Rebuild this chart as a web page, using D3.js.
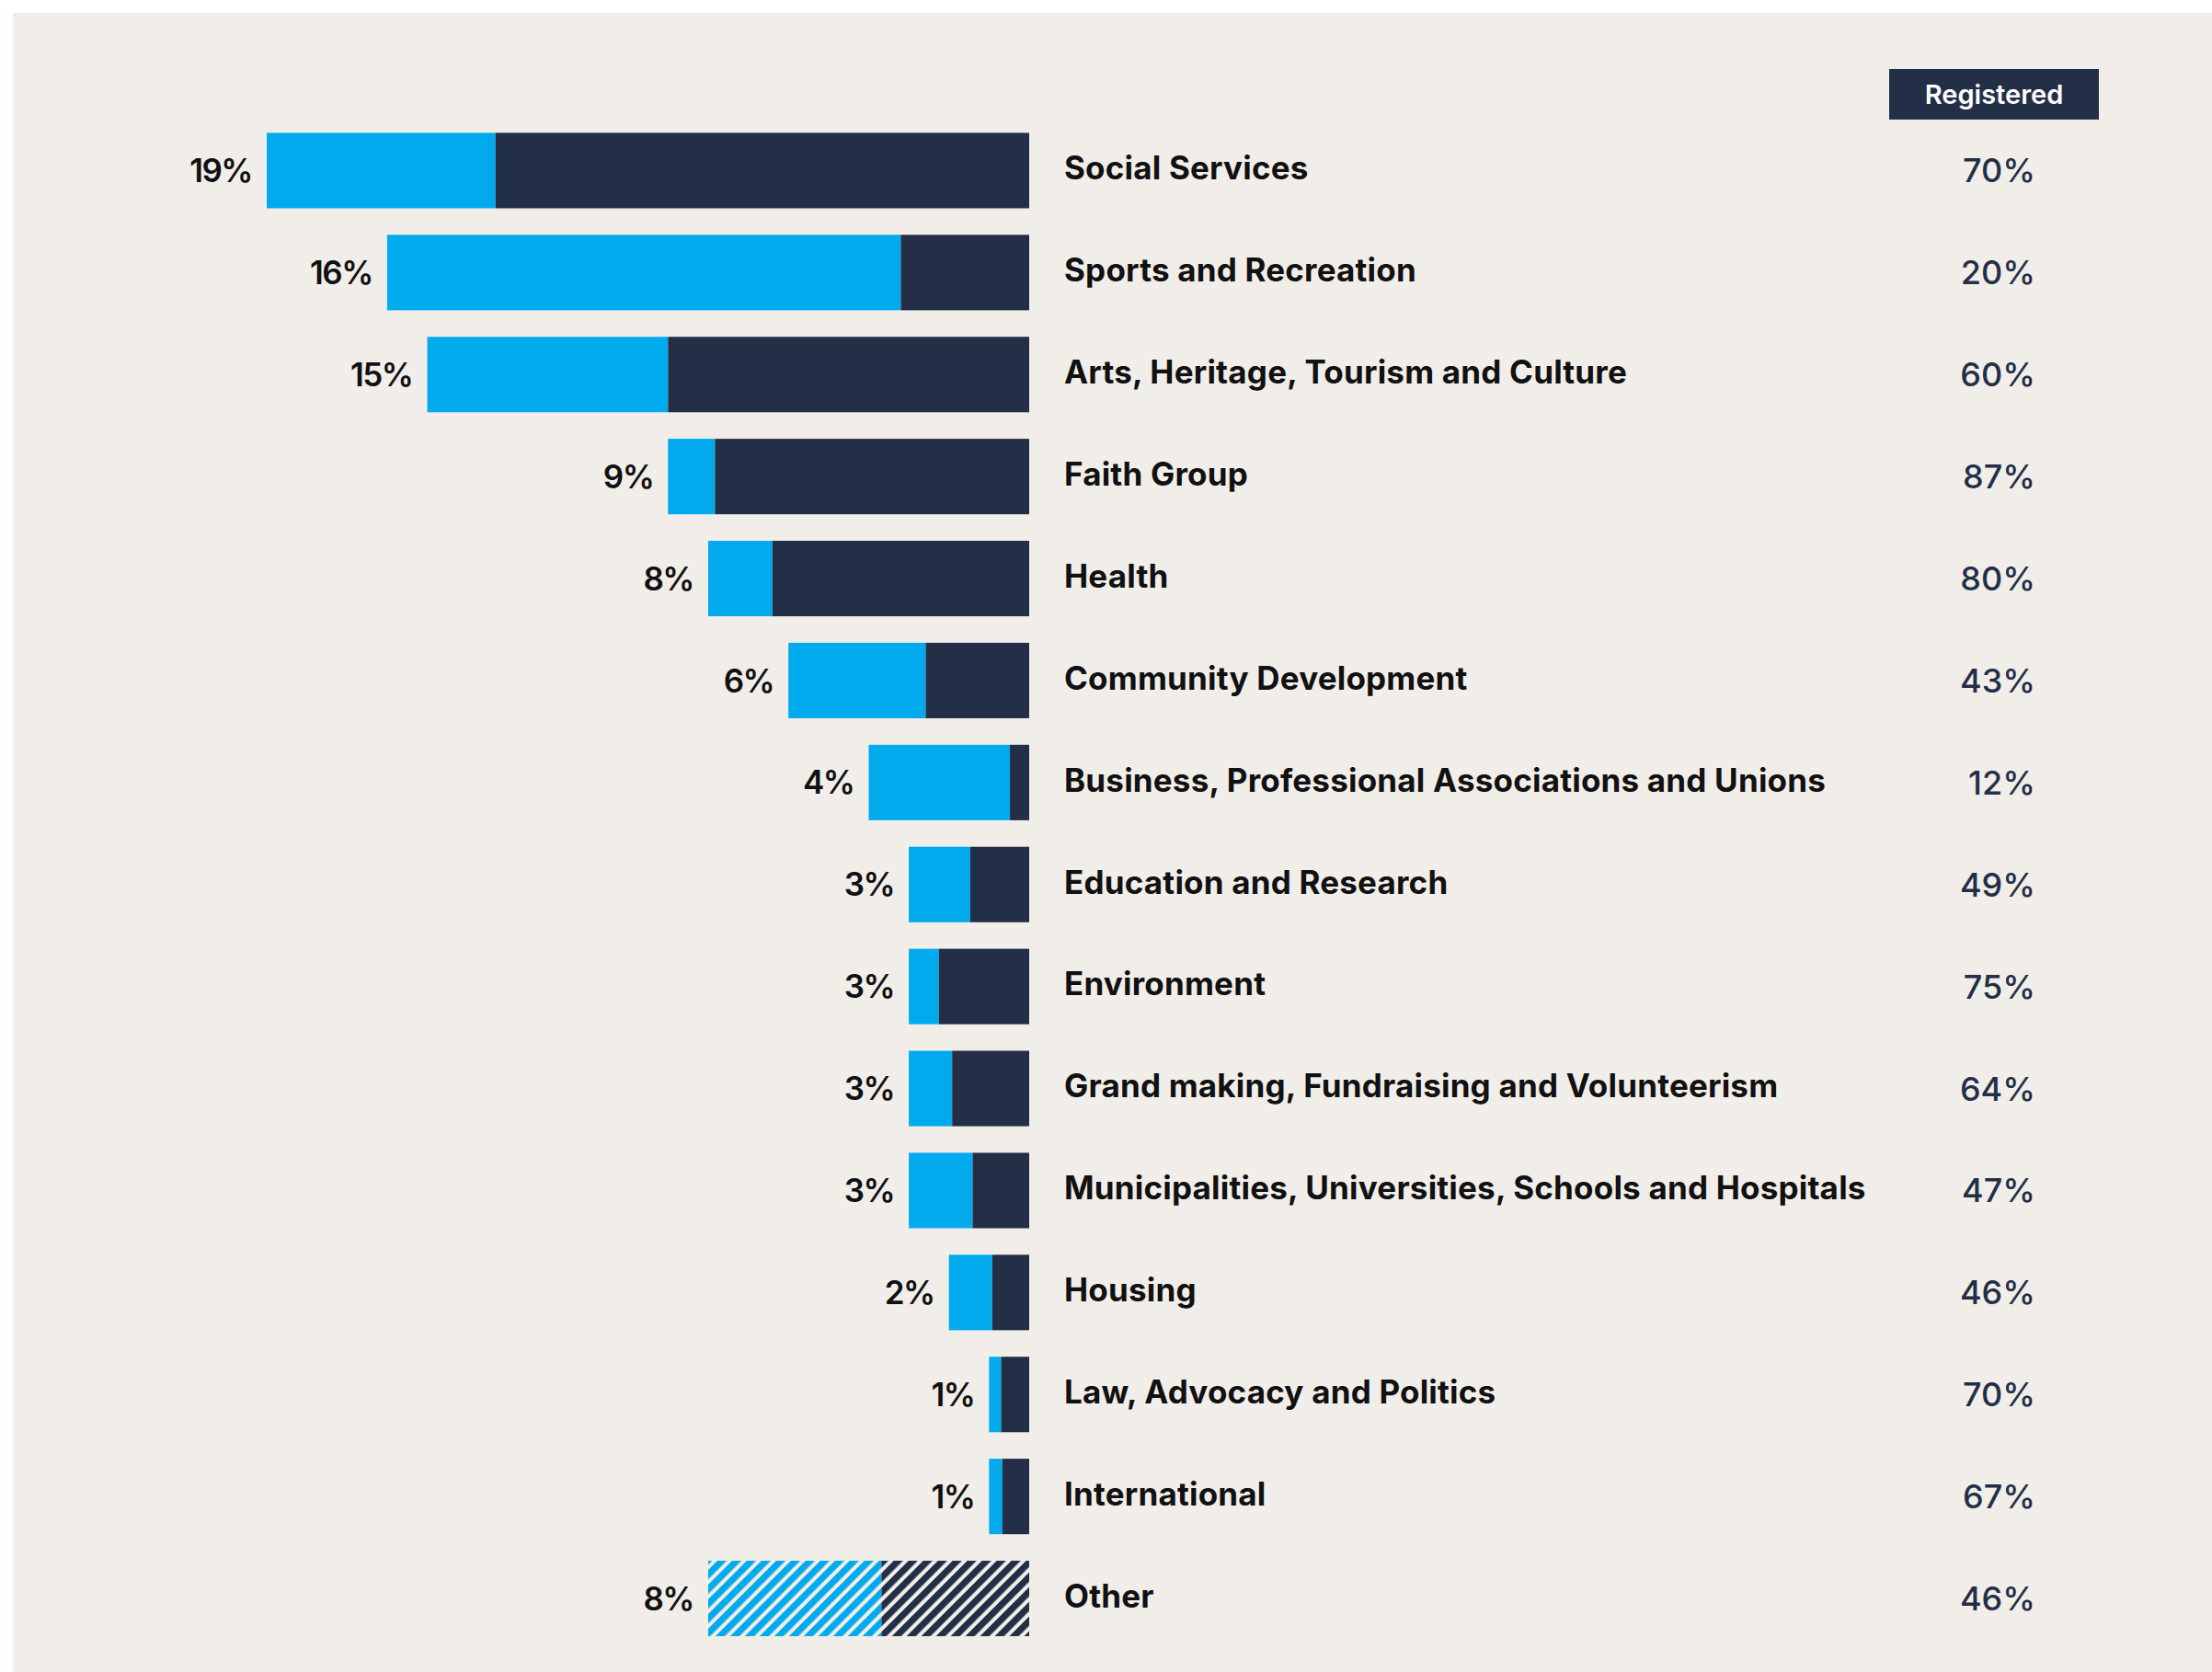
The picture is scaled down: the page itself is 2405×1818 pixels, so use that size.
<!DOCTYPE html>
<html>
<head>
<meta charset="utf-8">
<script src="https://cdn.jsdelivr.net/npm/d3@7"></script>
<style>
  html, body { margin: 0; padding: 0; background: #ffffff; }
  svg { display: block; }
  text { font-family: Inter, Lato, "Open Sans", sans-serif; }
</style>
</head>
<body>
<svg id="chart" width="2405" height="1818"></svg>
<script>
// Share of organisations by sector, and the proportion of each that is registered
const categories = [
  "Social Services",
  "Sports and Recreation",
  "Arts, Heritage, Tourism and Culture",
  "Faith Group",
  "Health",
  "Community Development",
  "Business, Professional Associations and Unions",
  "Education and Research",
  "Environment",
  "Grand making, Fundraising and Volunteerism",
  "Municipalities, Universities, Schools and Hospitals",
  "Housing",
  "Law, Advocacy and Politics",
  "International",
  "Other"
];
const shareValues = [19, 16, 15, 9, 8, 6, 4, 3, 3, 3, 3, 2, 1, 1, 8];
const registeredValues = [70, 20, 60, 87, 80, 43, 12, 49, 75, 64, 47, 46, 70, 67, 46];
const hatchedCategories = ["Other"];
const legendLabel = "Registered";

const BLUE = "#00aaec";
const NAVY = "#232f47";
const BG = "#f1eeea";

const svg = d3.select("#chart");

// panel
svg.append("rect")
  .attr("x", 14).attr("y", 14)
  .attr("width", 2405 - 14).attr("height", 1818 - 14)
  .attr("fill", BG);

// diagonal hatching for the residual category
const defs = svg.append("defs");
function hatch(id, color) {
  const p = defs.append("pattern")
    .attr("id", id)
    .attr("patternUnits", "userSpaceOnUse")
    .attr("width", 11.3).attr("height", 11.3)
    .attr("patternTransform", "rotate(45)");
  p.append("rect").attr("width", 11.3).attr("height", 11.3).attr("fill", BG);
  p.append("rect").attr("x", 0).attr("width", 7.2).attr("height", 11.3).attr("fill", color);
}
hatch("hatch-blue", BLUE);
hatch("hatch-navy", NAVY);

const rows = categories.map((c, i) => ({
  category: c,
  share: shareValues[i],
  registered: registeredValues[i],
  hatched: hatchedCategories.includes(c)
}));

// bars grow leftwards from a common right edge
const x = d3.scaleLinear().domain([0, 19]).range([1119, 290]);
const y = d3.scaleBand()
  .domain(categories)
  .range([130, 130 + 15 * 110.9])
  .paddingInner(0.26)
  .paddingOuter(0.13);

const g = svg.append("g");

const row = g.selectAll("g.row")
  .data(rows)
  .join("g")
  .attr("class", "row");

// unregistered part (left, blue)
row.append("rect")
  .attr("x", d => x(d.share))
  .attr("y", d => y(d.category))
  .attr("height", y.bandwidth())
  .attr("width", d => x(d.share * d.registered / 100) - x(d.share))
  .attr("fill", d => d.hatched ? "url(#hatch-blue)" : BLUE);

// registered part (right, navy)
row.append("rect")
  .attr("x", d => x(d.share * d.registered / 100))
  .attr("y", d => y(d.category))
  .attr("height", y.bandwidth())
  .attr("width", d => x(0) - x(d.share * d.registered / 100))
  .attr("fill", d => d.hatched ? "url(#hatch-navy)" : NAVY);

// share labels
row.append("text")
  .attr("x", d => x(d.share) - 16)
  .attr("y", d => y(d.category) + y.bandwidth() / 2)
  .attr("dy", "0.36em")
  .attr("text-anchor", "end")
  .attr("font-size", 35)
  .attr("font-weight", 600)
  .attr("letter-spacing", -1.5)
  .attr("fill", "#111111")
  .text(d => d.share + "%");

// category names
row.append("text")
  .attr("x", 1157)
  .attr("y", d => y(d.category) + y.bandwidth() / 2)
  .attr("dy", "0.28em")
  .attr("font-size", 35)
  .attr("font-weight", 700)
  .attr("letter-spacing", 0.2)
  .attr("fill", "#111111")
  .text(d => d.category);

// registered share
row.append("text")
  .attr("x", 2213)
  .attr("y", d => y(d.category) + y.bandwidth() / 2)
  .attr("dy", "0.36em")
  .attr("text-anchor", "end")
  .attr("font-size", 36)
  .attr("font-weight", 500)
  .attr("fill", NAVY)
  .text(d => d.registered + "%");

// column header
const header = svg.append("g");
header.append("rect")
  .attr("x", 2054).attr("y", 75)
  .attr("width", 228).attr("height", 55)
  .attr("fill", NAVY);
header.append("text")
  .attr("x", 2168).attr("y", 102.5)
  .attr("dy", "0.36em")
  .attr("text-anchor", "middle")
  .attr("font-size", 29)
  .attr("font-weight", 600)
  .attr("fill", "#ffffff")
  .text(legendLabel);
</script>
</body>
</html>
